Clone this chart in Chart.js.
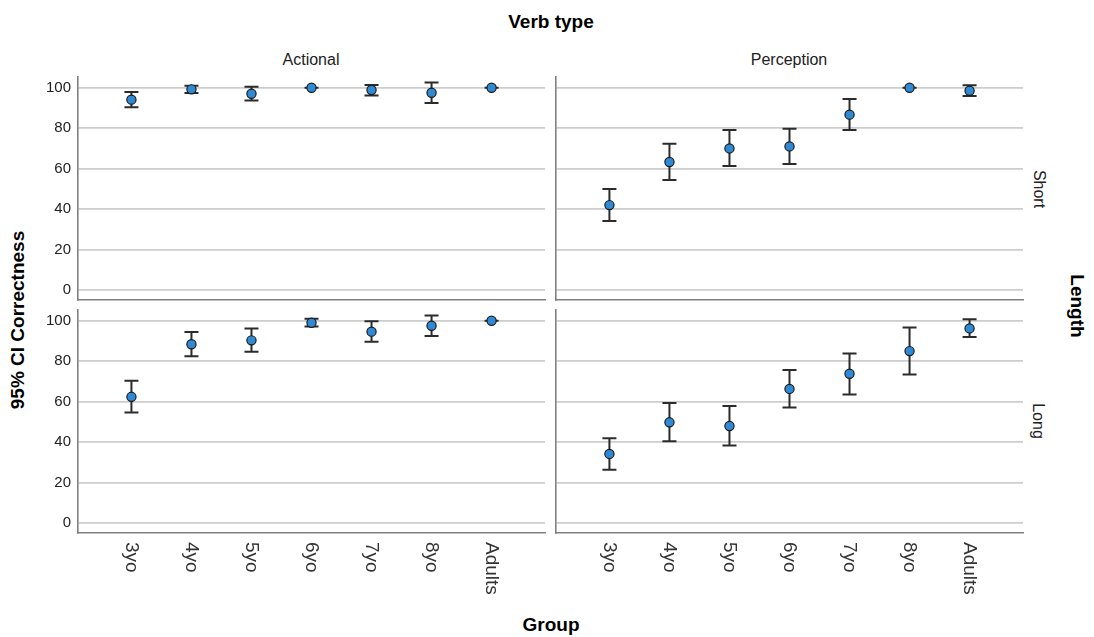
<!DOCTYPE html>
<html>
<head>
<meta charset="utf-8">
<script src="https://cdn.jsdelivr.net/npm/chart.js@4.4.1/dist/chart.umd.min.js"></script>
<style>
  body { margin: 0; background: #fff; }
  #wrap { position: relative; width: 1094px; height: 637px; font-family: "Liberation Sans", Arial, sans-serif; color: #111; }
  canvas { position: absolute; }
  .lbl { position: absolute; white-space: nowrap; transform: translate(-50%, -50%); }
  .bold { font-weight: bold; font-size: 19px; color: #000; }
  .strip { font-size: 16px; color: #222; }
</style>
</head>
<body>
<div id="wrap">
  <div class="lbl bold" style="left:551px; top:22px;">Verb type</div>
  <div class="lbl strip" style="left:311px; top:60px;">Actional</div>
  <div class="lbl strip" style="left:789px; top:60px;">Perception</div>
  <div class="lbl bold" style="left:18px; top:320px; transform: translate(-50%, -50%) rotate(-90deg);">95% CI Correctness</div>
  <div class="lbl strip" style="left:1039px; top:189px; transform: translate(-50%, -50%) rotate(90deg);">Short</div>
  <div class="lbl strip" style="left:1038px; top:421px; transform: translate(-50%, -50%) rotate(90deg);">Long</div>
  <div class="lbl bold" style="left:1077px; top:306px; transform: translate(-50%, -50%) rotate(90deg);">Length</div>
  <div class="lbl bold" style="left:551px; top:625px;">Group</div>

  <canvas id="tl" width="555" height="240" style="left:0px; top:67px;"></canvas>
  <canvas id="tr" width="487" height="240" style="left:546px; top:67px;"></canvas>
  <canvas id="bl" width="555" height="310" style="left:0px; top:300px;"></canvas>
  <canvas id="br" width="487" height="310" style="left:546px; top:300px;"></canvas>
</div>
<script>
const groups = ['3yo', '4yo', '5yo', '6yo', '7yo', '8yo', 'Adults'];
const yTicks = [0, 20, 40, 60, 80, 100];

// Actional / Short
const actionalShortMean = [94.1, 99.2, 97.0, 100, 98.9, 97.5, 100];
const actionalShortLow  = [90.3, 97.4, 93.7, 100, 96.2, 92.4, 100];
const actionalShortHigh = [97.9, 101.0, 100.5, 100, 101.3, 102.6, 100];

// Perception / Short
const perceptionShortMean = [42.0, 63.3, 70.0, 71.0, 86.7, 100, 98.5];
const perceptionShortLow  = [34.1, 54.4, 61.3, 62.3, 79.1, 100, 95.9];
const perceptionShortHigh = [49.9, 72.3, 79.1, 79.7, 94.4, 100, 101.2];

// Actional / Long
const actionalLongMean = [62.4, 88.4, 90.3, 99.0, 94.6, 97.5, 100];
const actionalLongLow  = [54.6, 82.5, 84.7, 97.2, 89.6, 92.4, 100];
const actionalLongHigh = [70.3, 94.4, 96.2, 101.0, 99.8, 102.6, 100];

// Perception / Long
const perceptionLongMean = [34.2, 49.8, 48.0, 66.3, 73.8, 85.0, 96.2];
const perceptionLongLow  = [26.4, 40.4, 38.3, 57.1, 63.5, 73.4, 91.9];
const perceptionLongHigh = [41.9, 59.4, 57.8, 75.6, 83.8, 96.7, 100.7];

// whiskers with caps, drawn under the points
const errorBars = {
  id: 'errorBars',
  beforeDatasetsDraw(chart, args, opts) {
    const { ctx, scales: { x, y } } = chart;
    ctx.save();
    ctx.strokeStyle = '#2b2b2b';
    ctx.lineWidth = 2;
    opts.lows.forEach((lo, i) => {
      const px = x.getPixelForValue(i);
      const top = y.getPixelForValue(opts.highs[i]);
      const bot = y.getPixelForValue(lo);
      ctx.beginPath();
      ctx.moveTo(px, top); ctx.lineTo(px, bot);
      ctx.moveTo(px - 7, top); ctx.lineTo(px + 7, top);
      ctx.moveTo(px - 7, bot); ctx.lineTo(px + 7, bot);
      ctx.stroke();
    });
    ctx.restore();
  }
};

// category labels rotated clockwise (read top to bottom)
const groupLabels = {
  id: 'groupLabels',
  afterDraw(chart, args, opts) {
    if (!opts.show) return;
    const { ctx, chartArea, scales: { x } } = chart;
    ctx.save();
    ctx.font = '19px "Liberation Sans", Arial, sans-serif';
    ctx.fillStyle = '#333';
    ctx.textAlign = 'left';
    ctx.textBaseline = 'middle';
    groups.forEach((g, i) => {
      ctx.save();
      ctx.translate(x.getPixelForValue(i), chartArea.bottom + 9);
      ctx.rotate(Math.PI / 2);
      ctx.fillText(g, 0, 0);
      ctx.restore();
    });
    ctx.restore();
  }
};

function makePanel(id, means, lows, highs, showY, showX, yWidth, xHeight) {
  const ctx = document.getElementById(id).getContext('2d');
  return new Chart(ctx, {
    type: 'scatter',
    data: {
      datasets: [{
        data: means.map((v, i) => ({ x: i, y: v })),
        pointRadius: 4.6,
        pointBackgroundColor: '#2f8ad6',
        pointBorderColor: '#1b1b1b',
        pointBorderWidth: 1.2
      }]
    },
    options: {
      responsive: false,
      animation: false,
      layout: { padding: { top: 10, right: 10, left: 0, bottom: 0 } },
      plugins: {
        legend: { display: false },
        tooltip: { enabled: false },
        errorBars: { lows: lows, highs: highs },
        groupLabels: { show: showX }
      },
      scales: {
        x: {
          type: 'linear',
          min: -0.89,
          max: 6.89,
          afterBuildTicks: axis => { axis.ticks = groups.map((g, i) => ({ value: i })); },
          afterFit: axis => {
            axis.height = xHeight;
            axis.paddingLeft = 0;
            axis.paddingRight = 0;
          },
          ticks: { display: false },
          grid: { display: false, drawTicks: false },
          border: { color: '#808080', width: 1.6 }
        },
        y: {
          min: -4.9,
          max: 105.3,
          afterBuildTicks: axis => { axis.ticks = yTicks.map(v => ({ value: v })); },
          afterFit: axis => {
            axis.width = yWidth;
            axis.paddingTop = 0;
            axis.paddingBottom = 0;
          },
          ticks: {
            display: showY,
            padding: 7,
            color: '#222',
            font: { family: '"Liberation Sans", Arial, sans-serif', size: 15 }
          },
          grid: { color: '#cdcdcd', lineWidth: 1.8, drawTicks: false },
          border: { color: '#808080', width: 1.6 }
        }
      }
    },
    plugins: [errorBars, groupLabels]
  });
}

makePanel('tl', actionalShortMean, actionalShortLow, actionalShortHigh, true, false, 78, 7);
makePanel('tr', perceptionShortMean, perceptionShortLow, perceptionShortHigh, false, false, 10, 7);
makePanel('bl', actionalLongMean, actionalLongLow, actionalLongHigh, true, true, 78, 77);
makePanel('br', perceptionLongMean, perceptionLongLow, perceptionLongHigh, false, true, 10, 77);
</script>
</body>
</html>
